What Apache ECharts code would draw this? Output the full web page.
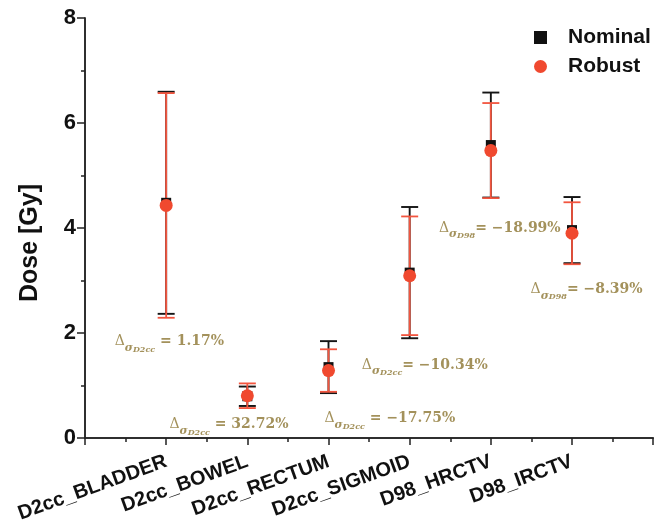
<!DOCTYPE html>
<html>
<head>
<meta charset="utf-8">
<script src="https://cdn.jsdelivr.net/npm/echarts@6/dist/echarts.min.js"></script>
<style>
  html, body { margin: 0; padding: 0; background: #fff; }
  #chart { width: 656px; height: 531px; }
</style>
</head>
<body>
<div id="chart"></div>
<script>
// Dose metrics per structure (category index + 1 is the x position)
const categories = ['D2cc_BLADDER', 'D2cc_BOWEL', 'D2cc_RECTUM', 'D2cc_SIGMOID', 'D98_HRCTV', 'D98_IRCTV'];

// Nominal plan: mean dose and standard deviation [Gy]
const nominalMean = [4.48, 0.795, 1.35, 3.15, 5.58, 3.96];
const nominalSD   = [2.115, 0.185, 0.495, 1.25, 1.00, 0.63];

// Robust plan: mean dose and standard deviation [Gy]
const robustMean = [4.43, 0.805, 1.285, 3.09, 5.475, 3.90];
const robustSD   = [2.14, 0.235, 0.405, 1.13, 0.905, 0.59];

// Relative change of the standard deviation, robust vs nominal
const deltaMetric = ['D2cc', 'D2cc', 'D2cc', 'D2cc', 'D98', 'D98'];
const deltaText   = [' = 1.17%', ' = 32.72%', ' = \u221217.75%', '= \u221210.34%', '= \u221218.99%', '= \u22128.39%'];
// Where each delta note starts, in axis units
const noteX = [0.366, 1.04, 2.95, 3.41, 4.36, 5.49];
const noteY = [1.87, 0.29, 0.41, 1.43, 4.04, 2.87];

const axisColor = '#222';
const noteColor = '#8c7632';
const robustColor = '#f0492f';
const robustBarColor = '#f2553f';

const pointsOf = (means) => means.map((m, i) => [i + 1, m]);
const barsOf = (means, sds) => means.map((m, i) => [i + 1, m - sds[i], m + sds[i]]);

function errorBar(color, width, halfCap) {
  return function (params, api) {
    const x = api.value(0);
    const top = api.coord([x, api.value(2)]);
    const bot = api.coord([x, api.value(1)]);
    const style = { stroke: color, lineWidth: width, fill: null };
    return {
      type: 'group',
      children: [
        { type: 'line', shape: { x1: top[0], y1: top[1], x2: bot[0], y2: bot[1] }, style },
        { type: 'line', shape: { x1: top[0] - halfCap, y1: top[1], x2: top[0] + halfCap, y2: top[1] }, style },
        { type: 'line', shape: { x1: bot[0] - halfCap, y1: bot[1], x2: bot[0] + halfCap, y2: bot[1] }, style }
      ]
    };
  };
}

const noteData = noteX.map((x, i) => ({
  value: [x, noteY[i]],
  label: { formatter: '{d|\u0394}{s|\u03c3}{ss|' + deltaMetric[i] + '}{v|' + deltaText[i] + '}' }
}));

const lineStyle = { color: axisColor, width: 1.5 };
const serif = 'DejaVu Serif';
const sans = 'Liberation Sans';

const option = {
  animation: false,
  backgroundColor: '#fff',
  grid: { left: 85, right: -3, top: 18, bottom: 93 },
  legend: {
    orient: 'vertical',
    left: 529,
    top: 22,
    itemWidth: 13,
    itemHeight: 13,
    itemGap: 8,
    data: [
      { name: 'Nominal', icon: 'rect' },
      { name: 'Robust', icon: 'circle' }
    ],
    textStyle: { fontFamily: sans, fontWeight: 'bold', fontSize: 21, color: '#111', padding: [0, 0, 0, 16] }
  },
  xAxis: [
    {
      type: 'value', position: 'bottom', min: 0, max: 7, interval: 1,
      axisLine: { show: true, lineStyle },
      axisTick: { show: true, inside: false, length: 7, lineStyle },
      minorTick: { show: true, splitNumber: 2, length: 4, lineStyle },
      splitLine: { show: false },
      axisLabel: {
        formatter: (v) => categories[Math.round(v) - 1] || '',
        rotate: 20, margin: 23,
        fontFamily: sans, fontWeight: 'bold', fontSize: 20, color: '#111'
      }
    },
    {
      type: 'value', position: 'top', min: 0, max: 7, interval: 1,
      axisLine: { show: true, lineStyle },
      axisTick: { show: true, inside: true, length: 6, lineStyle },
      minorTick: { show: true, splitNumber: 2, length: 3, lineStyle },
      splitLine: { show: false },
      axisLabel: { show: false }
    }
  ],
  yAxis: [
    {
      type: 'value', position: 'left', min: 0, max: 8, interval: 2,
      name: 'Dose [Gy]', nameLocation: 'middle', nameGap: 42, nameRotate: 90,
      nameTextStyle: { fontFamily: sans, fontWeight: 'bold', fontSize: 25, color: '#111', padding: [0, 30, 0, 0] },
      axisLine: { show: true, lineStyle },
      axisTick: { show: true, inside: false, length: 8, lineStyle },
      minorTick: { show: true, splitNumber: 2, length: 4, lineStyle },
      splitLine: { show: false },
      axisLabel: { margin: 9, fontFamily: sans, fontWeight: 'bold', fontSize: 22, color: '#111' }
    },
    {
      type: 'value', position: 'right', min: 0, max: 8, interval: 2,
      axisLine: { show: true, lineStyle },
      axisTick: { show: true, inside: true, length: 6, lineStyle },
      minorTick: { show: true, splitNumber: 2, length: 3, lineStyle },
      splitLine: { show: false },
      axisLabel: { show: false }
    }
  ],
  series: [
    {
      name: 'Nominal SD', type: 'custom', z: 2,
      renderItem: errorBar('#151515', 1.9, 8.5),
      encode: { x: 0, y: [1, 2] },
      data: barsOf(nominalMean, nominalSD)
    },
    {
      name: 'Robust SD', type: 'custom', z: 3,
      renderItem: errorBar(robustBarColor, 1.8, 8.5),
      encode: { x: 0, y: [1, 2] },
      data: barsOf(robustMean, robustSD)
    },
    {
      name: 'Nominal', type: 'scatter', z: 4,
      symbol: 'rect', symbolSize: 10,
      itemStyle: { color: '#111', opacity: 1 },
      data: pointsOf(nominalMean)
    },
    {
      name: 'Robust', type: 'scatter', z: 5,
      symbol: 'circle', symbolSize: 13,
      itemStyle: { color: robustColor, opacity: 1 },
      data: pointsOf(robustMean)
    },
    {
      name: 'Delta notes', type: 'scatter', z: 6,
      symbolSize: 0, silent: true,
      label: {
        show: true, position: 'right', distance: 0, offset: [0, 10],
        rich: {
          d:  { fontFamily: serif, fontSize: 14, color: noteColor, lineHeight: 30, verticalAlign: 'top' },
          s:  { fontFamily: serif, fontStyle: 'italic', fontWeight: 'bold', fontSize: 11, color: noteColor, lineHeight: 30, verticalAlign: 'top', padding: [8, 0, 0, 0] },
          ss: { fontFamily: serif, fontStyle: 'italic', fontWeight: 'bold', fontSize: 8, color: noteColor, lineHeight: 30, verticalAlign: 'top', padding: [11, 0, 0, 0] },
          v:  { fontFamily: serif, fontWeight: 'bold', fontSize: 14, color: noteColor, lineHeight: 30, verticalAlign: 'top' }
        }
      },
      data: noteData
    }
  ]
};

const chart = echarts.init(document.getElementById('chart'), null, { renderer: 'canvas' });
chart.setOption(option);
</script>
</body>
</html>
